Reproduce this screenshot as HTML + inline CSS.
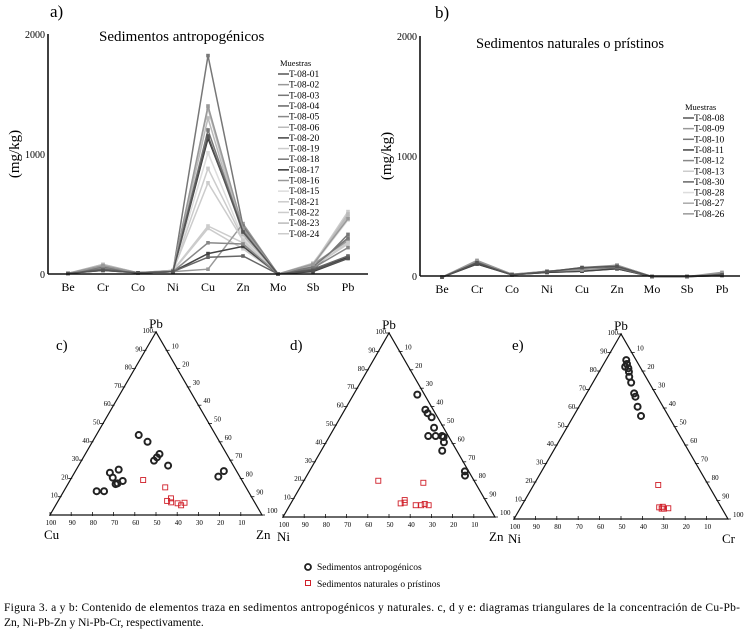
<!DOCTYPE html>
<html><head><meta charset="utf-8">
<style>
body{margin:0;background:#fff;}
svg{display:block;font-family:"Liberation Serif",serif;}
</style></head>
<body>
<svg id="fig" width="747" height="631" viewBox="0 0 747 631">
<text x="50" y="17" font-size="17">a)</text>
<text x="99" y="41" font-size="15">Sedimentos antropogénicos</text>
<text x="435" y="18" font-size="17">b)</text>
<text x="476" y="48" font-size="14.5">Sedimentos naturales o prístinos</text>
<text x="56" y="350" font-size="15">c)</text>
<text x="290" y="350" font-size="15">d)</text>
<text x="512" y="350" font-size="15">e)</text>
<g id="legend2">
<circle cx="308" cy="567" r="3" fill="none" stroke="#222" stroke-width="1.8"/>
<text x="317" y="570" font-size="9.5">Sedimentos antropogénicos</text>
<rect x="305.5" y="580.5" width="5" height="5" fill="none" stroke="#d0202a"/>
<text x="317" y="587" font-size="9.5">Sedimentos naturales o prístinos</text>
</g>
<text x="4" y="611" font-size="11.5" textLength="736" lengthAdjust="spacing">Figura 3. a y b: Contenido de elementos traza en sedimentos antropogénicos y naturales. c, d y e: diagramas triangulares de la concentración de Cu-Pb-</text>
<text x="4" y="626" font-size="11.5">Zn, Ni-Pb-Zn y Ni-Pb-Cr, respectivamente.</text>
</svg>
<script>
const NS="http://www.w3.org/2000/svg";
const svg=document.getElementById('fig');
function mk(tag,attrs,parent){const e=document.createElementNS(NS,tag);for(const k in attrs)e.setAttribute(k,attrs[k]);(parent||svg).appendChild(e);return e;}

// ---- line chart data ----
const elements=["Be","Cr","Co","Ni","Cu","Zn","Mo","Sb","Pb"];
const yTicks=[0,1000,2000];
const namesA=["T-08-01","T-08-02","T-08-03","T-08-04","T-08-05","T-08-06","T-08-20","T-08-19","T-08-18","T-08-17","T-08-16","T-08-15","T-08-21","T-08-22","T-08-23","T-08-24"];
const valsA=[
[5,30,10,20,1150,350,0,30,130],
[5,70,10,25,1400,380,0,80,460],
[5,60,10,25,1200,360,0,60,300],
[5,40,10,20,140,150,0,40,150],
[5,50,10,20,260,250,0,50,220],
[5,80,10,30,1380,330,0,70,500],
[5,30,10,20,170,230,0,20,130],
[5,60,10,25,760,280,0,60,260],
[5,40,10,20,1820,400,0,30,330],
[5,40,10,20,1130,380,0,40,140],
[5,40,10,20,40,420,0,80,280],
[5,70,10,25,1010,300,0,70,450],
[5,60,10,25,880,290,0,60,250],
[5,80,10,30,400,260,0,80,520],
[5,70,10,30,1300,320,0,90,480],
[5,60,10,25,380,210,0,50,270]];
const colorsA=["#555","#999","#777","#666","#888","#bbb","#444","#ccc","#777","#333","#999","#ddd","#ccc","#ccc","#bbb","#ccc"];
const namesB=["T-08-08","T-08-09","T-08-10","T-08-11","T-08-12","T-08-13","T-08-30","T-08-28","T-08-27","T-08-26"];
const valsB=[
[-10,110,10,35,70,80,-5,-5,10],
[-10,130,15,40,50,90,-5,-5,30],
[-10,120,10,40,60,70,-5,-5,20],
[-10,100,10,30,40,60,-5,-5,5],
[-10,120,15,35,70,90,-5,-5,15],
[-10,110,10,40,45,75,-5,-5,10],
[-10,100,10,30,40,60,-5,-5,5],
[-10,115,10,35,50,80,-5,-5,10],
[-10,105,10,30,45,65,-5,-5,5],
[-10,120,10,40,60,85,-5,-5,20]];
const colorsB=["#555","#999","#777","#444","#888","#ccc","#666","#ddd","#aaa","#999"];

function lineChart(name,x0,x1,yTop,yBot,xFirst,names,vals,colors,lx,ly){
  const g=mk('g',{});
  
  
  const X=i=>xFirst+i*35;
  const Y=v=>yBot-(v/2000)*(yBot-yTop);
  for(let i=vals.length-1;i>=0;i--){
    const pts=vals[i].map((v,j)=>X(j)+','+Y(v)).join(' ');
    const pl=mk('polyline',{points:pts,fill:'none',stroke:colors[i],'stroke-width':1.5},g);
    
    
    vals[i].forEach((v,j)=>{const m=mk('rect',{x:X(j)-1.8,y:Y(v)-1.8,width:3.6,height:3.6,fill:colors[i]},g);
      
      });
  }
  const ya=mk('line',{x1:x0,y1:yTop,x2:x0,y2:yBot,stroke:'#111','stroke-width':1.6},g);
  
  
  const xa=mk('line',{x1:x0,y1:yBot,x2:x1,y2:yBot,stroke:'#111','stroke-width':1.6},g);
  
  
  yTicks.forEach(t=>{const tx=mk('text',{x:x0-3,y:Y(t)+4,'font-size':10,'text-anchor':'end'},g);tx.textContent=t;
    
    });
  elements.forEach((e,j)=>{const tx=mk('text',{x:X(j),y:yBot+17,'font-size':12,'text-anchor':'middle'},g);tx.textContent=e;
    
    });
  const yt=mk('text',{x:0,y:0,'font-size':15,'text-anchor':'middle',transform:`translate(${x0-29},${(yTop+yBot)/2}) rotate(-90)`},g);
  yt.textContent='(mg/kg)';
  
  
  const lt=mk('text',{x:lx+2,y:ly,'font-size':8.5},g);lt.textContent='Muestras';
  
  
  names.forEach((n,i)=>{const yy=ly+11+i*10.65;
    const l=mk('line',{x1:lx,y1:yy-3,x2:lx+11,y2:yy-3,stroke:colors[i],'stroke-width':1.5},g);
    
    
    const t=mk('text',{x:lx+11,y:yy,'font-size':9.5},g);t.textContent=n;
    
    });
}
lineChart('chart-a',48,368,34,274,68,namesA,valsA,colorsA,278,66);
lineChart('chart-b',420,740,36,276,442,namesB,valsB,colorsB,683,110);

// ---- ternary data: [top%, right%] (left = 100 - top - right) ----
const cAnthPb=[43.7,40,33.3,31.5,29.7,27,23.1,24.8,20.4,18.6,16.9,17.3,13,13,21,24];
const cAnthZn=[20,26,35,34.7,34.2,42.2,16.7,20,19.4,25,22.5,23.2,15.5,19,68.9,70];
const cNatPb=[19.1,15.1,9.1,7.7,6.9,6.4,5.3,6.7];
const cNatZn=[34.4,46.8,52.5,51.4,53.7,57,59.2,60.1];
const dAnthPb=[66.5,58.3,56.4,54.2,48.5,44,44,44,43.5,40.6,36,24.8,22.5];
const dAnthZn=[30.1,38,40,43,47,46.5,50,53,54,55.6,57.1,73.4,74.6];
const dNatPb=[19.7,18.6,9.2,7.4,7.8,6.4,6.4,7.1,6.4];
const dNatZn=[35.1,56.9,52.8,51.8,53.5,59.4,62,63.3,65.5];
const eAnthPb=[85.9,83.8,82.3,81.5,79.6,76.9,73.7,67.9,66.1,60.7,55.7];
const eAnthCr=[9.5,10.9,10.8,12.7,13.9,15.4,17.9,22.2,23.7,27.4,31.5];
const eNatPb=[18.4,6.3,6.6,5.6,5.8,5.6];
const eNatCr=[58.2,64.7,66.2,67.3,69.2,66.2];
const tickVals=[10,20,30,40,50,60,70,80,90,100];

function ternary(name,apex,L,R,topLbl,leftLbl,rightLbl,aP,aR,nP,nR){
  const g=mk('g',{});
  
  
  const P=(p,r)=>{p/=100;r/=100;const l=1-p-r;return [p*apex[0]+l*L[0]+r*R[0],p*apex[1]+l*L[1]+r*R[1]];};
  const tri=mk('polygon',{points:[apex,L,R].map(q=>q.join(',')).join(' '),fill:'none',stroke:'#111','stroke-width':1.2},g);
  
  
  tickVals.forEach(k=>{
    let q=P(k,0);
    let t=mk('line',{x1:q[0]-3,y1:q[1],x2:q[0]+1,y2:q[1],stroke:'#111','stroke-width':0.8},g);
    
    
    let tx=mk('text',{x:q[0]-3,y:q[1]+1,'font-size':7,'text-anchor':'end'},g);tx.textContent=k;
    
    
    q=P(100-k,k);
    t=mk('line',{x1:q[0]-1,y1:q[1],x2:q[0]+3,y2:q[1],stroke:'#111','stroke-width':0.8},g);
    
    
    tx=mk('text',{x:q[0]+5,y:q[1]-2,'font-size':7},g);tx.textContent=k;
    
    
    q=P(0,100-k);
    t=mk('line',{x1:q[0],y1:q[1]-3,x2:q[0],y2:q[1]+1,stroke:'#111','stroke-width':0.8},g);
    
    
    tx=mk('text',{x:q[0]+1,y:q[1]+10,'font-size':7,'text-anchor':'middle'},g);tx.textContent=k;
    
    
  });
  let tl=mk('text',{x:apex[0],y:apex[1]-4,'font-size':13,'text-anchor':'middle'},g);tl.textContent=topLbl;
  
  
  tl=mk('text',{x:L[0]-6,y:L[1]+24,'font-size':13},g);tl.textContent=leftLbl;
  
  
  tl=mk('text',{x:R[0]-6,y:R[1]+24,'font-size':13},g);tl.textContent=rightLbl;
  
  
  aP.forEach((p,i)=>{const q=P(p,aR[i]);
    const c=mk('circle',{cx:q[0],cy:q[1],r:3,fill:'none',stroke:'#222','stroke-width':2},g);
    
    });
  nP.forEach((p,i)=>{const q=P(p,nR[i]);
    const r=mk('rect',{x:q[0]-2.5,y:q[1]-2.5,width:5,height:5,fill:'none',stroke:'#d0202a','stroke-width':0.9},g);
    
    });
}
ternary('ternary-c',[156,332],[50,515],[262,515],'Pb','Cu','Zn',cAnthPb,cAnthZn,cNatPb,cNatZn);
ternary('ternary-d',[389,333],[283,517],[495,517],'Pb','Ni','Zn',dAnthPb,dAnthZn,dNatPb,dNatZn);
ternary('ternary-e',[621,334],[514,519],[728,519],'Pb','Ni','Cr',eAnthPb,eAnthCr,eNatPb,eNatCr);
</script>
</body></html>
